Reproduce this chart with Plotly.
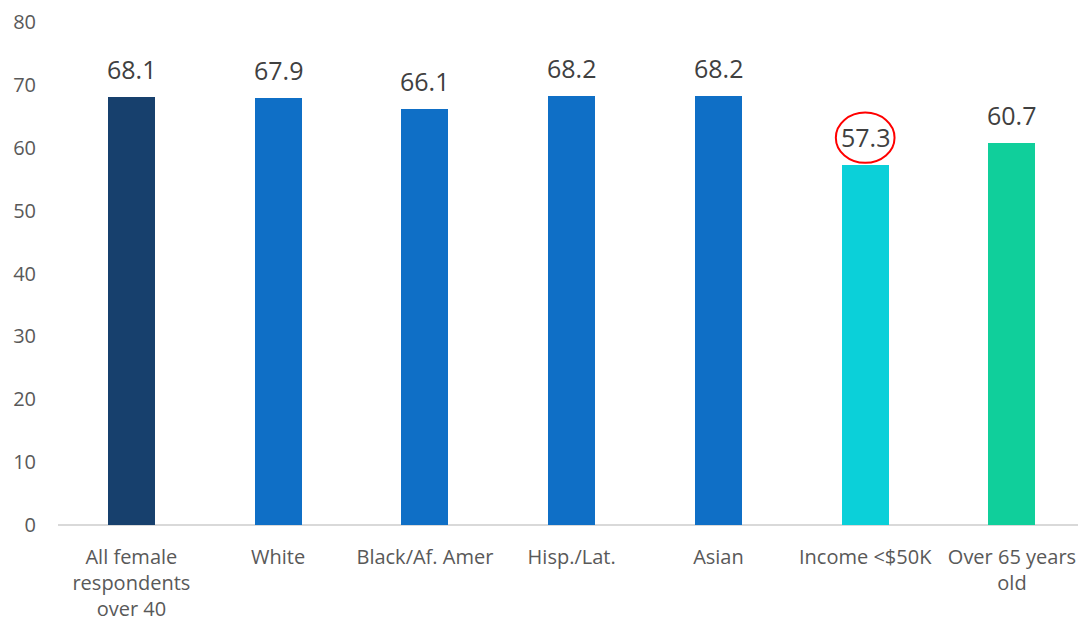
import plotly.graph_objects as go

categories = ["All female<br>respondents<br>over 40", "White", "Black/Af. Amer", "Hisp./Lat.",
              "Asian", "Income <$50K", "Over 65 years<br>old"]
values = [68.1, 67.9, 66.1, 68.2, 68.2, 57.3, 60.7]
colors = ["#17406D", "#0F6FC6", "#0F6FC6", "#0F6FC6", "#0F6FC6", "#0BD0D9", "#10CF9B"]
y_ticks = [0, 10, 20, 30, 40, 50, 60, 70, 80]
highlight_index = 5

fig = go.Figure()
fig.add_trace(go.Bar(
    x=list(range(len(categories))), y=values,
    marker=dict(color=colors, line=dict(width=0)),
    width=0.32,
    hoverinfo="skip",
))

for i, v in enumerate(values):
    fig.add_annotation(x=i, y=v, text=f"{v:.1f}", showarrow=False,
                       yanchor="bottom", yshift=9,
                       font=dict(size=25, color="#404040", family="Open Sans"))

hv = values[highlight_index]
fig.add_shape(type="circle", xref="x", yref="y",
              x0=highlight_index - 0.2, x1=highlight_index + 0.2,
              y0=hv + 0.3, y1=hv + 8.3,
              line=dict(color="#FF0000", width=2))

fig.update_layout(
    width=1078, height=625,
    margin=dict(l=58, r=0, t=22, b=100),
    plot_bgcolor="white", paper_bgcolor="white",
    showlegend=False,
    bargap=0,
    xaxis=dict(
        range=[-0.5, 6.45],
        tickmode="array", tickvals=list(range(len(categories))), ticktext=categories,
        tickfont=dict(size=20, color="#595959", family="Open Sans"),
        showgrid=False, zeroline=False, showline=False, ticks="",
        ticklabelstandoff=18,
        fixedrange=True,
    ),
    yaxis=dict(
        range=[0, 80], tickvals=y_ticks,
        tickfont=dict(size=20, color="#595959", family="Open Sans"),
        showgrid=False, zeroline=True, zerolinecolor="#D9D9D9", zerolinewidth=2,
        showline=False, ticks="", ticklabelstandoff=21,
        fixedrange=True,
    ),
)

fig.write_html("out.html")
